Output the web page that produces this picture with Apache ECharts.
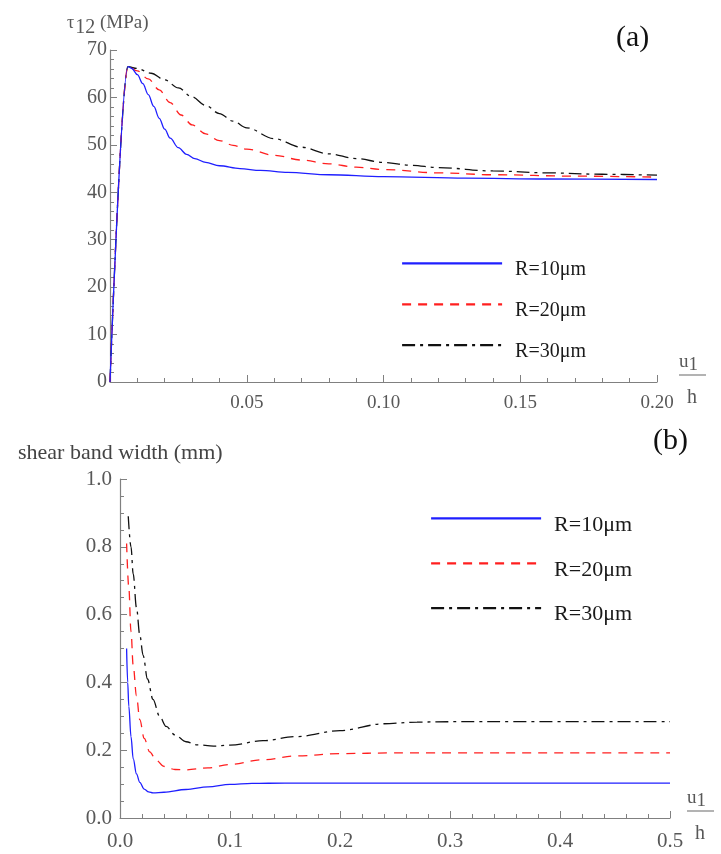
<!DOCTYPE html>
<html>
<head>
<meta charset="utf-8">
<script src="https://cdn.jsdelivr.net/npm/echarts@6/dist/echarts.min.js"></script>
<style>
  html, body { margin: 0; padding: 0; background: #fff; }
  #main { width: 721px; height: 854px; }
</style>
</head>
<body>
<div id="main"></div>
<script>
// (a) shear stress tau12 (MPa) vs u1/h
const aX10 = [0, 0.0066, 0.008, 0.01, 0.012, 0.014, 0.016, 0.018, 0.02, 0.022, 0.025, 0.028, 0.031, 0.035, 0.04, 0.0475, 0.055, 0.065, 0.08, 0.1, 0.13, 0.16, 0.2]
const aR10 = [0, 66.5, 66.1, 64.8, 62.9, 60.6, 58.1, 55.6, 53.3, 51.4, 49.4, 48.0, 47.1, 46.3, 45.6, 45.0, 44.6, 44.2, 43.7, 43.3, 43.0, 42.8, 42.7]
const aX20 = [0, 0.0066, 0.01, 0.014, 0.018, 0.022, 0.026, 0.03, 0.035, 0.04, 0.045, 0.05, 0.06, 0.07, 0.08, 0.09, 0.1, 0.12, 0.14, 0.17, 0.2]
const aR20 = [0, 66.5, 65.6, 63.9, 61.6, 58.9, 56.3, 54.2, 52.3, 50.9, 49.9, 49.1, 47.8, 46.8, 46.0, 45.3, 44.8, 44.1, 43.7, 43.4, 43.2]
const aX30 = [0, 0.0066, 0.01, 0.015, 0.02, 0.025, 0.03, 0.035, 0.04, 0.045, 0.05, 0.06, 0.07, 0.08, 0.09, 0.1, 0.11, 0.12, 0.14, 0.16, 0.18, 0.2]
const aR30 = [0, 66.5, 66.1, 65.1, 63.7, 62.0, 60.1, 58.3, 56.6, 55.0, 53.6, 51.3, 49.5, 48.1, 47.1, 46.3, 45.7, 45.2, 44.5, 44.1, 43.8, 43.6]

// (b) shear band width (mm) vs u1/h
const bX10 = [0.006, 0.007, 0.008, 0.01, 0.012, 0.015, 0.018, 0.022, 0.026, 0.03, 0.04, 0.06, 0.08, 0.1, 0.12, 0.15, 0.3, 0.5]
const bR10 = [0.50, 0.40, 0.33, 0.24, 0.175, 0.13, 0.105, 0.085, 0.077, 0.074, 0.076, 0.084, 0.092, 0.099, 0.102, 0.103, 0.103, 0.103]
const bX20 = [0.006, 0.008, 0.01, 0.012, 0.015, 0.018, 0.022, 0.027, 0.033, 0.04, 0.05, 0.06, 0.08, 0.1, 0.13, 0.16, 0.2, 0.25, 0.5]
const bR20 = [0.81, 0.68, 0.55, 0.45, 0.36, 0.29, 0.235, 0.195, 0.17, 0.152, 0.143, 0.142, 0.148, 0.158, 0.172, 0.183, 0.19, 0.192, 0.192]
const bX30 = [0.0075, 0.01, 0.012, 0.015, 0.018, 0.021, 0.025, 0.03, 0.036, 0.042, 0.05, 0.06, 0.07, 0.085, 0.1, 0.13, 0.16, 0.2, 0.24, 0.27, 0.3, 0.5]
const bR30 = [0.89, 0.80, 0.72, 0.62, 0.54, 0.48, 0.41, 0.35, 0.30, 0.27, 0.245, 0.225, 0.216, 0.212, 0.215, 0.228, 0.24, 0.258, 0.278, 0.283, 0.284, 0.284]

const names = ['R=10μm', 'R=20μm', 'R=30μm']

const pairs = (xs, ys) => xs.map((x, i) => [x, ys[i]])

const serif = 'Liberation Serif'
const axisColor = '#808080'
const labelColor = '#585858'

function axisBase() {
  return {
    axisLine: { show: true, onZero: false, lineStyle: { color: axisColor, width: 1.2 } },
    axisTick: { show: true, inside: true, length: 7, lineStyle: { color: axisColor } },
    splitLine: { show: false }
  }
}

// u1 over h, drawn as a small fraction after the x axis
function fracName(gap) {
  return {
    name: '{u|u}{s|1}\n{l| }\n{h|h}',
    nameLocation: 'end',
    nameGap: gap,
    nameTextStyle: {
      align: 'left',
      rich: {
        u: { fontFamily: serif, fontSize: 19, color: labelColor, lineHeight: 20, verticalAlign: 'top' },
        s: { fontFamily: serif, fontSize: 19, color: labelColor, lineHeight: 20, padding: [5, 0, 0, 0] },
        l: { width: 27, height: 1, fontSize: 1, lineHeight: 4, backgroundColor: '#666' },
        h: { fontFamily: serif, fontSize: 20, color: labelColor, lineHeight: 34, padding: [8, 0, 0, 8] }
      }
    }
  }
}

const styles = [
  { color: '#1f1fff', type: 'solid' },
  { color: '#ff1f1f', type: [9, 7] },
  { color: '#111', type: [13, 5, 3, 5] }
]

function mkSeries(data, idx, axis) {
  return {
    name: names[idx],
    type: 'line',
    xAxisIndex: axis,
    yAxisIndex: axis,
    data: data,
    smooth: 0.35,
    smoothMonotone: 'x',
    symbol: 'none',
    lineStyle: { color: styles[idx].color, type: styles[idx].type, width: 1.3 },
    itemStyle: { color: styles[idx].color },
    z: 3 - idx
  }
}

function mkLegend(left, top, w, gap, size) {
  return {
    data: names, orient: 'vertical', left: left, top: top, padding: 0,
    itemWidth: w, itemHeight: 16, itemGap: gap,
    lineStyle: { width: 2.2 },
    itemStyle: { opacity: 0 },
    formatter: '{a|{name}}',
    textStyle: {
      rich: { a: { fontFamily: serif, fontSize: size, color: '#1a1a1a', padding: [13, 0, 0, 8] } }
    }
  }
}

const chart = echarts.init(document.getElementById('main'))

chart.setOption({
  animation: false,
  backgroundColor: '#fff',
  title: [
    {
      text: '{t|τ}{s|12}{m| (MPa)}',
      left: 62, top: 4,
      textStyle: {
        rich: {
          t: { fontFamily: serif, fontSize: 18, fontWeight: 'normal', color: labelColor },
          s: { fontFamily: serif, fontSize: 20, fontWeight: 'normal', color: labelColor, padding: [9, 0, 0, 1] },
          m: { fontFamily: serif, fontSize: 19, fontWeight: 'normal', color: labelColor }
        }
      }
    },
    { text: '(a)', left: 611, top: 18, textStyle: { fontFamily: serif, fontSize: 30, fontWeight: 'normal', color: '#111' } },
    { text: 'shear band width (mm)', left: 13, top: 437, textStyle: { fontFamily: serif, fontSize: 22, fontWeight: 'normal', color: '#444' } },
    { text: '(b)', left: 648, top: 421, textStyle: { fontFamily: serif, fontSize: 30, fontWeight: 'normal', color: '#111' } }
  ],
  legend: [
    mkLegend(401, 257, 100, 18, 20),
    mkLegend(430, 512, 110, 21, 22)
  ],
  grid: [
    { left: 110, right: 64, top: 50, bottom: 472 },
    { left: 120, right: 51, top: 479, bottom: 36 }
  ],
  xAxis: [
    Object.assign(axisBase(), fracName(22), {
      type: 'value', gridIndex: 0, min: 0, max: 0.2, interval: 0.05,
      minorTick: { show: true, splitNumber: 5, length: 4, lineStyle: { color: axisColor } },
      axisLabel: { color: labelColor, fontFamily: serif, fontSize: 19, margin: 12, showMinLabel: false,
        formatter: v => v.toFixed(2) }
    }),
    Object.assign(axisBase(), fracName(16), {
      type: 'value', gridIndex: 1, min: 0, max: 0.5, interval: 0.1,
      minorTick: { show: true, splitNumber: 5, length: 4, lineStyle: { color: axisColor } },
      axisLabel: { color: labelColor, fontFamily: serif, fontSize: 21, margin: 13,
        formatter: v => v.toFixed(1) }
    })
  ],
  yAxis: [
    Object.assign(axisBase(), {
      type: 'value', gridIndex: 0, min: 0, max: 70, interval: 10,
      minorTick: { show: true, splitNumber: 5, length: 4, lineStyle: { color: axisColor } },
      axisLabel: { color: labelColor, fontFamily: serif, fontSize: 20, margin: 3 }
    }),
    Object.assign(axisBase(), {
      type: 'value', gridIndex: 1, min: 0, max: 1, interval: 0.2,
      minorTick: { show: true, splitNumber: 4, length: 4, lineStyle: { color: axisColor } },
      axisLabel: { color: labelColor, fontFamily: serif, fontSize: 21, margin: 8,
        formatter: v => v.toFixed(1) }
    })
  ],
  series: [
    mkSeries(pairs(aX10, aR10), 0, 0),
    mkSeries(pairs(aX20, aR20), 1, 0),
    mkSeries(pairs(aX30, aR30), 2, 0),
    mkSeries(pairs(bX10, bR10), 0, 1),
    mkSeries(pairs(bX20, bR20), 1, 1),
    mkSeries(pairs(bX30, bR30), 2, 1)
  ]
})
</script>
</body>
</html>
